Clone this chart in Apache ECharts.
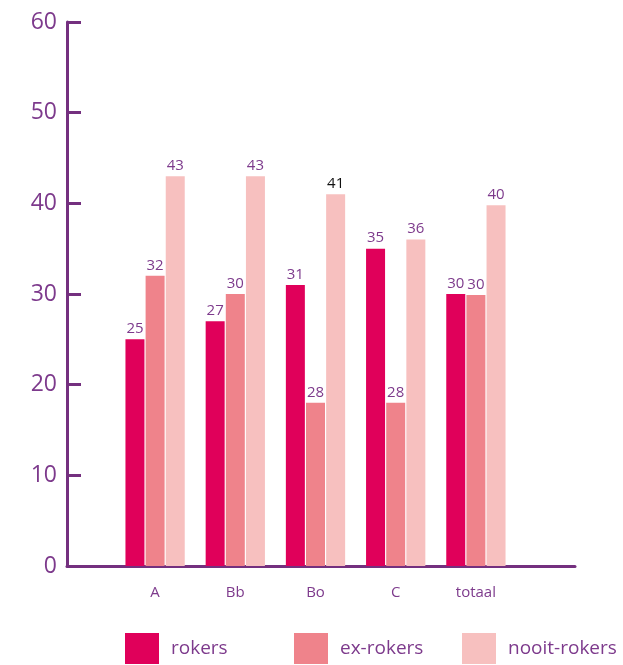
<!DOCTYPE html>
<html>
<head>
<meta charset="utf-8">
<script src="https://cdn.jsdelivr.net/npm/echarts@6/dist/echarts.min.js"></script>
<style>
  html, body { margin: 0; padding: 0; background: #fff; }
  #chart { width: 623px; height: 665px; }
</style>
</head>
<body>
<div id="chart"></div>
<script>
// categorieen en waarden
var categories = ['A', 'Bb', 'Bo', 'C', 'totaal'];
var seriesNames = ['rokers', 'ex-rokers', 'nooit-rokers'];
var rokers = [25, 27, 31, 35, 30];
var exRokers = [32, 30, 18, 18, 29.9];
var exRokersLabels = ['32', '30', '28', '28', '30'];
var nooitRokers = [43, 43, 41, 36, 39.8];
var nooitRokersLabels = ['43', '43', '41', '36', '40'];
var yTicks = [0, 10, 20, 30, 40, 50, 60];

var purple = '#74307f';
var textPurple = '#7d3a8c';
var font = 'Open Sans';

function items(values, labels, blackIdx) {
  return values.map(function (v, i) {
    var lbl = { formatter: labels[i] };
    if (i === blackIdx) lbl.color = '#111';
    return { value: v, label: lbl };
  });
}

var chart = echarts.init(document.getElementById('chart'));

var barLabel = {
  show: true,
  position: 'top',
  distance: 3,
  color: textPurple,
  fontFamily: font,
  fontSize: 15
};

// een legenda per reeks, vaste plekken zoals in het origineel
var legendLeft = [125, 294, 462];
var legends = seriesNames.map(function (n, i) {
  return {
    top: 633,
    left: legendLeft[i],
    padding: 0,
    itemWidth: 34,
    itemHeight: 31,
    itemGap: 0,
    icon: 'rect',
    textStyle: { color: textPurple, fontFamily: font, fontSize: 19, padding: [0, 0, 0, 7] },
    data: [n]
  };
});

chart.setOption({
  animation: false,
  grid: [
    { left: 67, right: 48, top: 22, bottom: 99 },
    { left: 115, right: 107, top: 22, bottom: 99 }
  ],
  xAxis: [{
    type: 'value', gridIndex: 0, min: 0, max: 1,
    axisLine: { show: true, lineStyle: { color: purple, width: 3 } },
    axisTick: { show: false }, axisLabel: { show: false }, splitLine: { show: false }
  }, {
    type: 'category', gridIndex: 1, data: categories,
    axisLine: { show: false }, axisTick: { show: false },
    axisLabel: { color: textPurple, fontFamily: font, fontSize: 15, margin: 19 }
  }],
  yAxis: [{
    type: 'value', gridIndex: 0, min: yTicks[0], max: yTicks[yTicks.length - 1], interval: 10,
    axisLine: { show: true, lineStyle: { color: purple, width: 3 } },
    axisTick: { show: true, inside: true, length: 14, lineStyle: { color: purple, width: 3 } },
    axisLabel: { color: textPurple, fontFamily: font, fontSize: 23, margin: 10 },
    splitLine: { show: false }
  }, {
    type: 'value', gridIndex: 1, min: 0, max: 60, show: false
  }],
  legend: legends,
  series: [{
    name: seriesNames[0], type: 'bar', xAxisIndex: 1, yAxisIndex: 1,
    barWidth: 19, barGap: '6%',
    itemStyle: { color: '#e0005a' },
    label: barLabel,
    data: rokers
  }, {
    name: seriesNames[1], type: 'bar', xAxisIndex: 1, yAxisIndex: 1,
    barWidth: 19, barGap: '6%',
    itemStyle: { color: '#ef838b' },
    label: barLabel,
    data: items(exRokers, exRokersLabels, -1)
  }, {
    name: seriesNames[2], type: 'bar', xAxisIndex: 1, yAxisIndex: 1,
    barWidth: 19, barGap: '6%',
    itemStyle: { color: '#f7c0bf' },
    label: barLabel,
    data: items(nooitRokers, nooitRokersLabels, 2)
  }]
});
</script>
</body>
</html>
